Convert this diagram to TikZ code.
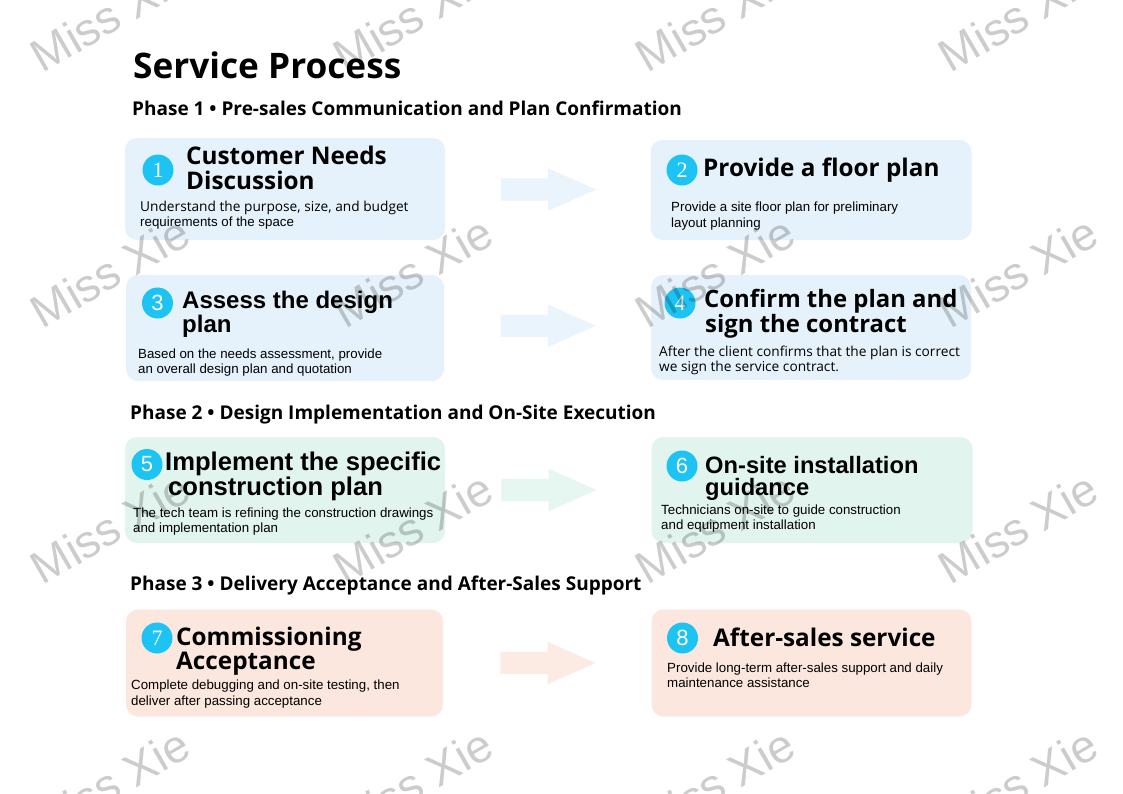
\documentclass[tikz,border=0pt]{standalone}
\usepackage{fontspec}
\setmainfont{Open Sans}
\newfontfamily\yh{Open Sans}
\newfontfamily\ar{Liberation Sans}
\newfontfamily\sr{Liberation Serif}
\usetikzlibrary{shapes.arrows,calc}
\definecolor{bblue}{HTML}{E6F2FB}
\definecolor{bgreen}{HTML}{E1F4EE}
\definecolor{bpeach}{HTML}{FCE7DE}
\definecolor{cyanc}{HTML}{1CC3F3}
\tikzset{
  card/.style={fill=#1, draw=none, rounded corners=12pt, inner sep=0pt},
  flow/.style={single arrow, fill=#1!85!white, draw=none, xshift=-12pt,
    single arrow head extend=10pt, single arrow head indent=0pt,
    single arrow tip angle=48, minimum height=95pt, inner sep=0pt},
  num/.style={circle, fill=cyanc, text=white, minimum size=31pt, inner sep=0pt},
  nsr/.style={num, font=\sr\fontsize{22}{22}\selectfont},
  nsa/.style={num, font=\ar\fontsize{22}{22}\selectfont},
  ttly/.style={anchor=base west, inner sep=0pt, align=left,
    font=\yh\bfseries\fontsize{24.3}{24}\selectfont},
  ttla/.style={anchor=base west, inner sep=0pt, align=left,
    font=\ar\bfseries\fontsize{24}{24}\selectfont},
  desca/.style={anchor=base west, inner sep=0pt, align=left,
    font=\ar\fontsize{13.3}{15}\selectfont},
  descy/.style={anchor=base west, inner sep=0pt, align=left,
    font=\yh\fontsize{13.7}{15}\selectfont},
  phase/.style={anchor=base west, inner sep=0pt,
    font=\yh\bfseries\fontsize{19}{19}\selectfont},
  wm/.style={rotate=30, inner sep=0pt, text=black, text opacity=0.2,
    font=\ar\fontsize{46}{46}\selectfont}
}
\newcommand{\shaft}{\vrule width 0pt height 11pt depth 11pt}
\begin{document}
\begin{tikzpicture}[x=1pt,y=-1pt]
\useasboundingbox (0,0) rectangle (1123,794);
\fill[white] (0,0) rectangle (1123,794);

% title and phases
\node[anchor=base west, inner sep=0pt, font=\yh\bfseries\fontsize{35.2}{36}\selectfont] (title) at (133,79) {Service Process};
\node[phase] (p1) at (132,116) {Phase 1 • Pre-sales Communication and Plan Confirmation};
\node[phase] (p2) at (130,419) {Phase 2 • Design Implementation and On-Site Execution};
\node[phase] (p3) at (130,590) {Phase 3 • Delivery Acceptance and After-Sales Support};

% cards
\node[card=bblue, minimum width=320pt, minimum height=102pt] (b1) at (285,189) {};
\node[card=bblue, minimum width=321pt, minimum height=100pt] (b2) at (811,190) {};
\node[card=bblue, minimum width=318pt, minimum height=106pt] (b3) at (285,328) {};
\node[card=bblue, minimum width=320pt, minimum height=105pt] (b4) at (811,327.5) {};
\node[card=bgreen, minimum width=320pt, minimum height=106pt] (b5) at (285,490) {};
\node[card=bgreen, minimum width=321pt, minimum height=106pt] (b6) at (812,490) {};
\node[card=bpeach, minimum width=317pt, minimum height=107pt] (b7) at (284.5,663) {};
\node[card=bpeach, minimum width=320pt, minimum height=107pt] (b8) at (811.5,663) {};

% arrows
\node[flow=bblue] (a1) at ($(b1.east)!0.5!(b2.west)$) {\shaft};
\node[flow=bblue] (a2) at ($(b3.east)!0.5!(b4.west)+(0,-2)$) {\shaft};
\node[flow=bgreen] (a3) at ($(b5.east)!0.5!(b6.west)$) {\shaft};
\node[flow=bpeach] (a4) at ($(b7.east)!0.5!(b8.west)$) {\shaft};

% number badges
\node[nsr] (n1) at (158,170) {1};
\node[nsr] (n2) at (682,170) {2};
\node[nsa] (n3) at (157.5,303) {3};
\node[nsr] (n4) at (680,303) {4};
\node[nsa] (n5) at (147,464.5) {5};
\node[nsa] (n6) at (682,466) {6};
\node[nsr] (n7) at (157,638) {7};
\node[nsa] (n8) at (682.5,638) {8};

% titles (anchor = baseline of last line)
\node[ttly, font=\yh\bfseries\fontsize{24.3}{25}\selectfont] (t1) at (186,190) {Customer Needs\\Discussion};
\node[ttly] (t2) at (703,177) {Provide a floor plan};
\node[ttla] (t3) at (182,332) {Assess the design\\plan};
\node[ttly, font=\yh\bfseries\fontsize{23.9}{22}\selectfont] (t4) at (704,332) {Confirm the plan and\\\hspace{1pt}sign the contract};
\node[ttla, font=\ar\bfseries\fontsize{25.6}{22}\selectfont] (t5) at (165,495) {Implement the specific\\\hspace{3pt}construction plan};
\node[ttla, font=\ar\bfseries\fontsize{23.7}{22}\selectfont] (t6) at (705,495) {On-site installation\\guidance};
\node[ttly] (t7) at (176,669) {Commissioning\\Acceptance};
\node[ttly] (t8) at (713,646) {After-sales service};

% descriptions (anchor = baseline of last line)
\node[descy] (d1a) at (140,212) {Understand the purpose, size, and budget};
\node[desca] (d1b) at (140,227) {requirements of the space};
\node[desca, font=\ar\fontsize{13.3}{16}\selectfont] (d2) at (671,228) {Provide a site floor plan for preliminary\\layout planning};
\node[desca] (d3) at (138,373) {Based on the needs assessment, provide\\an overall design plan and quotation};
\node[descy] (d4) at (659,371) {After the client confirms that the plan is correct\\we sign the service contract.};
\node[desca] (d5) at (133,532) {The tech team is refining the construction drawings\\and implementation plan};
\node[desca, font=\ar\fontsize{13.3}{14.5}\selectfont] (d6) at (661,529) {Technicians on-site to guide construction\\and equipment installation};
\node[desca, font=\ar\fontsize{13.3}{16}\selectfont] (d7) at (131,705) {Complete debugging and on-site testing, then\\deliver after passing acceptance};
\node[desca, font=\ar\fontsize{13.3}{14.5}\selectfont] (d8) at (667,687) {Provide long-term after-sales support and daily\\maintenance assistance};

% watermark
\foreach \r/\yy in {0/16,1/272,2/528,3/784}{
  \foreach \c/\xx in {0/110,1/413,2/715,3/1018}{
    \node[wm] (w\r\c) at (\xx,\yy) {Miss Xie};
  }
}
\end{tikzpicture}
\end{document}
